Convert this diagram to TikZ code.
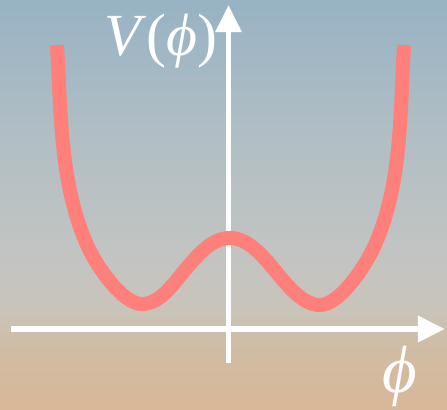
\documentclass[tikz,border=0pt]{standalone}
\usepackage{fontspec}
\setmainfont{Liberation Serif}
\usetikzlibrary{arrows.meta}
\definecolor{salmon}{RGB}{255,128,122}
\pgfdeclareverticalshading{atardecer}{100bp}{%
  rgb(0bp)=(0.85,0.72,0.59); rgb(25bp)=(0.85,0.72,0.59);
  rgb(33bp)=(0.81,0.74,0.65); rgb(37bp)=(0.79,0.77,0.73);
  rgb(44bp)=(0.76,0.77,0.76); rgb(59bp)=(0.69,0.745,0.77);
  rgb(75bp)=(0.595,0.70,0.77); rgb(100bp)=(0.595,0.70,0.77)}
\tikzset{
  eje/.style={white,line width=1.7pt,-{Triangle[length=0.27cm,width=0.25cm]}},
  etiqueta/.style={white,font=\fontsize{17}{17}\selectfont\itshape,inner sep=0pt}
}
\begin{document}
\begin{tikzpicture}
  % Fondo degradado y ejes del potencial de doble pozo
  \shade[shading=atardecer] (-2.285,-0.80) rectangle (2.185,3.29);
  \useasboundingbox (-2.285,-0.80) rectangle (2.185,3.29);
  \coordinate (O) at (0,0);
  \coordinate (xizq) at (-2.17,0);
  \coordinate (xder) at (2.165,0);
  \coordinate (yabajo) at (0,-0.34);
  \coordinate (yarriba) at (0,3.24);
  \draw[eje] (xizq) -- (xder);
  \draw[eje] (yabajo) -- (yarriba);
  \draw[salmon,line width=4pt]
    (-1.715,2.84) .. controls (-1.675,2.16) and (-1.687,1.44) .. (-1.405,0.82)
    .. controls (-1.322,0.638) and (-1.065,0.25) .. (-0.865,0.25)
    .. controls (-0.685,0.25) and (-0.550,0.452) .. (-0.435,0.59)
    .. controls (-0.317,0.731) and (-0.169,0.91) .. (0.015,0.91)
    .. controls (0.199,0.91) and (0.347,0.726) .. (0.465,0.585)
    .. controls (0.580,0.447) and (0.735,0.24) .. (0.915,0.24)
    .. controls (1.115,0.24) and (1.372,0.638) .. (1.455,0.82)
    .. controls (1.737,1.439) and (1.715,2.161) .. (1.755,2.84);
  \node[etiqueta,anchor=base east] (potencial) at (-0.105,2.74) {V\/\upshape(\itshape ϕ\/\upshape)};
  \node[etiqueta,font=\fontsize{19}{19}\selectfont\itshape] (campo) at (1.715,-0.47) {ϕ};
\end{tikzpicture}
\end{document}
